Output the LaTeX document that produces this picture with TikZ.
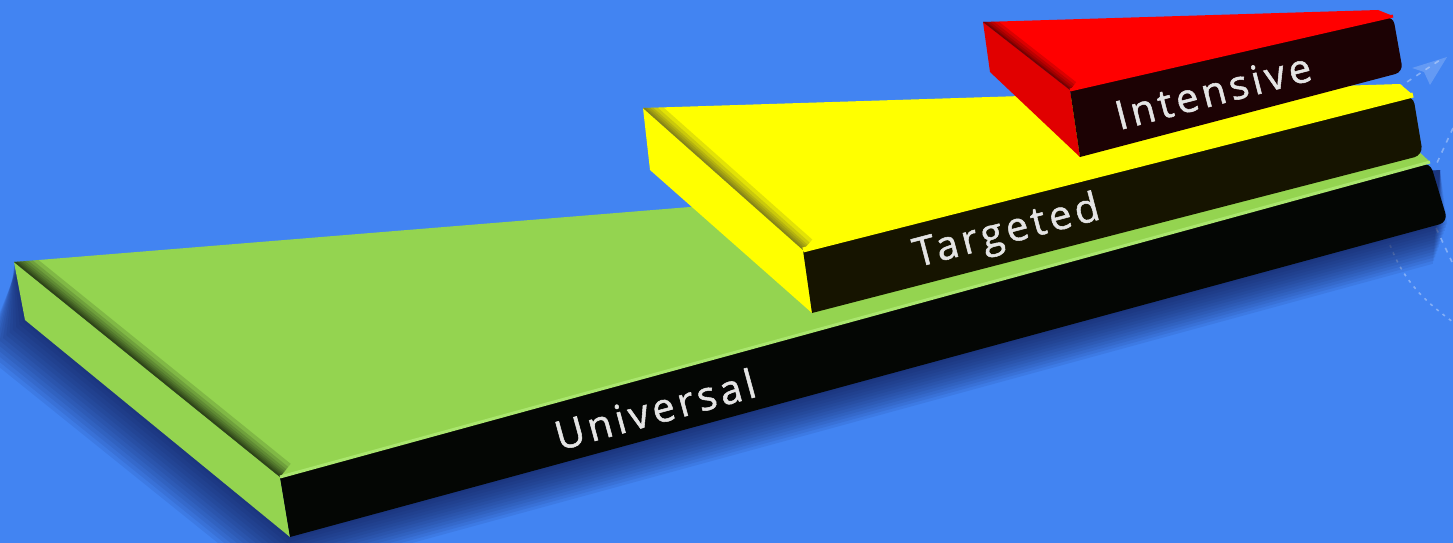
\documentclass[tikz,border=0pt]{standalone}
\usepackage{fontspec}
\newfontfamily\lblfont{Open Sans}[LetterSpace=10,FakeBold=1.3]
\definecolor{bgblue}{RGB}{66,132,242}
\definecolor{slabgreen}{RGB}{148,212,80}
\definecolor{slabgreenhi}{RGB}{170,230,110}
\definecolor{slabyellow}{RGB}{255,255,0}
\definecolor{slabred}{RGB}{255,0,0}
\definecolor{sidered}{RGB}{225,0,0}
\definecolor{frontgreen}{RGB}{4,6,4}
\definecolor{frontyellow}{RGB}{22,20,0}
\definecolor{frontred}{RGB}{28,2,4}
\definecolor{shadowblue}{RGB}{15,25,80}
\definecolor{lbltext}{RGB}{228,228,228}
\tikzset{
  lbl/.style={text=lbltext, font=\lblfont\fontsize{40}{44}\selectfont, inner sep=0pt},
  deco/.style={white, opacity=0.35, line width=1.6pt, dash pattern=on 5pt off 6pt},
}
\begin{document}
\begin{tikzpicture}[x=1pt,y=-1pt]
\fill[bgblue] (0,0) rectangle (1453,543);
\useasboundingbox (0,0) rectangle (1453,543);

% faint decorations at the right
\coordinate (dA) at (1398,88);
\coordinate (dB) at (1440,60);
\draw[deco] (dA) -- (dB);
\fill[white, opacity=0.18] (1447,57) -- (1412,68) -- (1424,72) -- (1430,85) -- cycle;
\coordinate (dC) at (1453,128);
\coordinate (dD) at (1436,165);
\draw[deco] (dC) -- (dD);
\coordinate (dE) at (1436,228);
\coordinate (dF) at (1452,262);
\draw[deco] (dE) -- (dF);
\coordinate (dG) at (1390,245);
\coordinate (dH) at (1453,322);
\draw[deco, dash pattern=on 3pt off 5pt] (dG) .. controls (1405,285) and (1430,305) .. (dH);

% soft shadow under the green slab
\foreach \d in {76,70,...,0} {
  \fill[shadowblue, opacity=0.085]
    (14,262+0.2*\d) -- (25-0.55*\d,320+0.45*\d) -- (290-0.3*\d,537+0.6*\d)
    -- (1448-0.2*\d,222+0.55*\d) -- (1440,170) -- cycle;
}

% ---------- green slab ----------
\coordinate (G1) at (14,262);
\coordinate (G2) at (280,477);
\coordinate (G3) at (1430,162);
\coordinate (G4) at (1415,148);
\coordinate (G5) at (290,537);
\coordinate (G6) at (1448,222);
\coordinate (G7) at (25,320);
\fill[slabgreen] (G1) -- (G4) -- (G3) -- (G2) -- cycle;
\fill[slabgreen] (G1) -- (G2) -- (G5) -- (G7) -- cycle;
\begin{scope}
  \clip (G1) -- (G4) -- (G3) -- (G2) -- cycle;
  \foreach \w in {34,26,20,15,11,8,5,3} {\draw[black, opacity=0.13, line width=\w pt] (G1) -- (G2);}
\end{scope}
\fill[frontgreen] (G2) [rounded corners=9pt] -- (G3) -- (G6) [sharp corners] -- (G5) -- cycle;
\draw[slabgreenhi, line width=3pt] (G2) -- (G3);

% ---------- yellow slab ----------
\coordinate (Y1) at (643,108);
\coordinate (Y2) at (803,250);
\coordinate (Y3) at (1413,95);
\coordinate (Y4) at (1400,84);
\coordinate (Y5) at (812,313);
\coordinate (Y6) at (1423,155);
\coordinate (Y7) at (650,170);
\fill[slabyellow] (Y1) -- (Y4) -- (Y3) -- (Y2) -- cycle;
\fill[slabyellow] (Y1) -- (Y2) -- (Y5) -- (Y7) -- cycle;
\begin{scope}
  \clip (Y1) -- (Y4) -- (Y3) -- (Y2) -- cycle;
  \foreach \w in {28,20,14,10,6,3} {\draw[black!80!olive, opacity=0.14, line width=\w pt] (Y1) -- (Y2);}
\end{scope}
\fill[frontyellow] (Y2) [rounded corners=9pt] -- (Y3) -- (Y6) [sharp corners] -- (Y5) -- cycle;
\draw[slabyellow, line width=5pt] (Y2) -- (Y3);

% ---------- red slab ----------
\coordinate (R1) at (983,22);
\coordinate (R2) at (1070,90);
\coordinate (R3) at (1393,16);
\coordinate (R4) at (1378,10);
\coordinate (R5) at (1080,157);
\coordinate (R6) at (1403,72);
\coordinate (R7) at (990,72);
\fill[slabred] (R1) -- (R4) -- (R3) -- (R2) -- cycle;
\fill[sidered] (R1) -- (R2) -- (R5) -- (R7) -- cycle;
\begin{scope}
  \clip (R1) -- (R4) -- (R3) -- (R2) -- cycle;
  \foreach \w in {20,14,9,5,3} {\draw[black, opacity=0.14, line width=\w pt] (R1) -- (R2);}
\end{scope}
\fill[frontred] (R2) [rounded corners=8pt] -- (R3) -- (R6) [sharp corners] -- (R5) -- cycle;
\draw[slabred, line width=3pt] (R2) -- (R3);

% ---------- labels ----------
\node[lbl, rotate=15.3] (universal) at (655,409) {Universal};
\node[lbl, rotate=14.7] (targeted) at (1007,233) {Targeted};
\node[lbl, rotate=14.5] (intensive) at (1213,91) {Intensive};
\end{tikzpicture}
\end{document}
